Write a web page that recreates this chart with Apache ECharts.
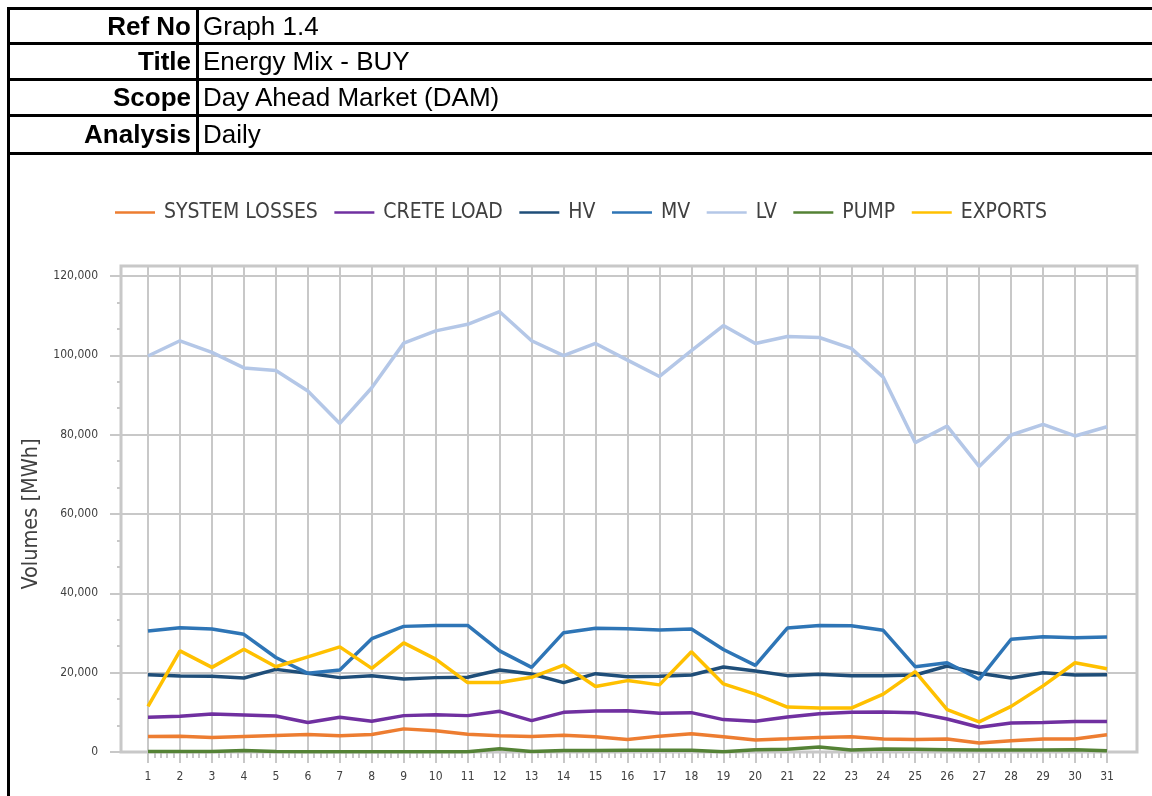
<!DOCTYPE html>
<html>
<head>
<meta charset="utf-8">
<script src="https://cdn.jsdelivr.net/npm/echarts@6/dist/echarts.min.js"></script>
<style>
  html, body { margin: 0; padding: 0; background: #ffffff; }
  #page { position: relative; width: 1152px; height: 796px; overflow: hidden; }
  #chart { position: absolute; left: 0; top: 0; width: 1152px; height: 796px; }
  .line { position: absolute; background: #000000; }
  .cell { position: absolute; font-family: 'Liberation Sans', Arial, sans-serif; font-size: 26px; color: #000000; white-space: nowrap; }
  .lab { left: 10px; width: 181px; text-align: right; font-weight: bold; }
  .val { left: 203px; }
</style>
</head>
<body>
<div id="page">
  <div id="chart"></div>
  <!-- header table -->
  <div class="line" style="left:7px;top:7px;width:1145px;height:3px"></div>
  <div class="line" style="left:7px;top:42px;width:1145px;height:3px"></div>
  <div class="line" style="left:7px;top:78px;width:1145px;height:3px"></div>
  <div class="line" style="left:7px;top:114px;width:1145px;height:3px"></div>
  <div class="line" style="left:7px;top:152px;width:1145px;height:3px"></div>
  <div class="line" style="left:7px;top:7px;width:3px;height:789px"></div>
  <div class="line" style="left:196px;top:7px;width:3px;height:148px"></div>
  <div class="cell lab" style="top:10px;height:32px;line-height:32px">Ref No</div>
  <div class="cell val" style="top:10px;height:32px;line-height:32px">Graph 1.4</div>
  <div class="cell lab" style="top:45px;height:33px;line-height:33px">Title</div>
  <div class="cell val" style="top:45px;height:33px;line-height:33px">Energy Mix - BUY</div>
  <div class="cell lab" style="top:81px;height:33px;line-height:33px">Scope</div>
  <div class="cell val" style="top:81px;height:33px;line-height:33px">Day Ahead Market (DAM)</div>
  <div class="cell lab" style="top:117px;height:35px;line-height:35px">Analysis</div>
  <div class="cell val" style="top:117px;height:35px;line-height:35px">Daily</div>
</div>
<script>
var days = [1, 2, 3, 4, 5, 6, 7, 8, 9, 10, 11, 12, 13, 14, 15, 16, 17, 18, 19, 20, 21, 22, 23, 24, 25, 26, 27, 28, 29, 30, 31];
var systemLosses = [3920, 4000, 3670, 3920, 4170, 4420, 4080, 4420, 5830, 5330, 4500, 4080, 3920, 4250, 3830, 3170, 4000, 4580, 3830, 3000, 3330, 3670, 3830, 3250, 3170, 3250, 2250, 2830, 3250, 3250, 4330];
var creteLoad = [8750, 9000, 9580, 9330, 9080, 7420, 8750, 7750, 9170, 9420, 9170, 10250, 7920, 10000, 10330, 10420, 9750, 9920, 8170, 7750, 8830, 9670, 10000, 10080, 9920, 8330, 6250, 7330, 7420, 7670, 7670];
var hv = [19500, 19170, 19080, 18670, 20830, 19830, 18750, 19250, 18420, 18750, 18830, 20670, 19670, 17500, 19750, 19000, 19080, 19420, 21420, 20420, 19250, 19580, 19250, 19250, 19420, 21670, 19830, 18670, 20000, 19420, 19500];
var mv = [30500, 31330, 31000, 29670, 23830, 19830, 20670, 28580, 31670, 31920, 31920, 25500, 21330, 30080, 31170, 31080, 30750, 31000, 25830, 21830, 31250, 31920, 31830, 30670, 21500, 22500, 18330, 28420, 29080, 28830, 29000];
var lv = [99830, 103670, 100750, 96830, 96170, 91000, 82830, 91830, 103080, 106170, 107830, 111000, 103670, 99920, 103000, 98800, 94670, 101170, 107500, 103000, 104750, 104500, 101750, 94500, 78000, 82170, 72000, 79920, 82580, 79670, 82000];
var pump = [150, 100, 150, 400, 100, 50, 50, 50, 50, 50, 50, 800, 150, 400, 400, 420, 420, 420, 80, 580, 670, 1250, 500, 750, 670, 580, 500, 500, 500, 580, 330];
var exportsVol = [11500, 25500, 21330, 25920, 21500, 24000, 26500, 21080, 27500, 23420, 17500, 17500, 18830, 21920, 16500, 18000, 16920, 25250, 17170, 14580, 11330, 11080, 11080, 14580, 20250, 10670, 7580, 11500, 16670, 22500, 21000];

var seriesNames = ['SYSTEM LOSSES', 'CRETE LOAD', 'HV', 'MV', 'LV', 'PUMP', 'EXPORTS'];
var seriesData = [systemLosses, creteLoad, hv, mv, lv, pump, exportsVol];
var seriesColors = ['#ED7D31', '#7030A0', '#1F4E79', '#2E75B6', '#B4C7E7', '#548235', '#FFC000'];

var font = "'DejaVu Sans Condensed', 'DejaVu Sans', sans-serif";
var gridGrey = '#c8c8c8';
var textGrey = '#404040';

function pairs (arr) {
  return arr.map(function (v, i) { return [days[i], v] })
}

var chart = echarts.init(document.getElementById('chart'));
chart.setOption({
  animation: false,
  textStyle: { fontFamily: font },
  legend: {
    data: seriesNames,
    left: 115,
    top: 202,
    padding: 0,
    icon: 'rect',
    itemWidth: 40,
    itemHeight: 2.5,
    itemGap: 16.5,
    textStyle: { fontFamily: font, fontSize: 21, color: textGrey, padding: [0, 0, 0, 4] }
  },
  grid: [
    // outer frame
    { left: 121, right: 15, top: 266, bottom: 44, show: true, borderColor: gridGrey, borderWidth: 3, backgroundColor: 'transparent' },
    // horizontal lines + y labels
    { left: 121, right: 15, top: 276, bottom: 44 },
    // vertical lines + x labels
    { left: 148, right: 45, top: 266, bottom: 44 },
    // data
    { left: 148, right: 45, top: 276, bottom: 44 }
  ],
  xAxis: [
    { gridIndex: 0, type: 'value', min: 0, max: 1, show: false },
    { gridIndex: 1, type: 'value', min: 0, max: 1, show: false },
    {
      gridIndex: 2,
      type: 'value',
      min: 1,
      max: 31,
      interval: 1,
      axisLine: { show: false },
      axisTick: { show: true, length: 11, lineStyle: { color: gridGrey, width: 2 } },
      minorTick: { show: true, splitNumber: 5, length: 6, lineStyle: { color: gridGrey, width: 2 } },
      splitLine: { show: true, lineStyle: { color: gridGrey, width: 2 } },
      axisLabel: { fontFamily: font, fontSize: 12, color: textGrey, margin: 19 }
    },
    { gridIndex: 3, type: 'value', min: 1, max: 31, show: false }
  ],
  yAxis: [
    { gridIndex: 0, type: 'value', min: 0, max: 1, show: false },
    {
      gridIndex: 1,
      type: 'value',
      min: 0,
      max: 120000,
      interval: 20000,
      name: 'Volumes [MWh]',
      nameLocation: 'middle',
      nameGap: 71,
      nameTextStyle: { fontFamily: font, fontSize: 21.5, color: textGrey },
      axisLine: { show: false },
      axisTick: { show: true, length: 11, lineStyle: { color: gridGrey, width: 2 } },
      minorTick: { show: true, splitNumber: 3, length: 4, lineStyle: { color: gridGrey, width: 2 } },
      splitLine: { show: true, lineStyle: { color: gridGrey, width: 2 } },
      axisLabel: { fontFamily: font, fontSize: 12, color: textGrey, margin: 23 }
    },
    { gridIndex: 2, type: 'value', min: 0, max: 1, show: false },
    { gridIndex: 3, type: 'value', min: 0, max: 120000, show: false }
  ],
  series: seriesNames.map(function (name, i) {
    return {
      name: name,
      type: 'line',
      xAxisIndex: 3,
      yAxisIndex: 3,
      symbol: 'none',
      color: seriesColors[i],
      lineStyle: { width: 3.5, color: seriesColors[i] },
      data: pairs(seriesData[i])
    }
  })
});
</script>
</body>
</html>
